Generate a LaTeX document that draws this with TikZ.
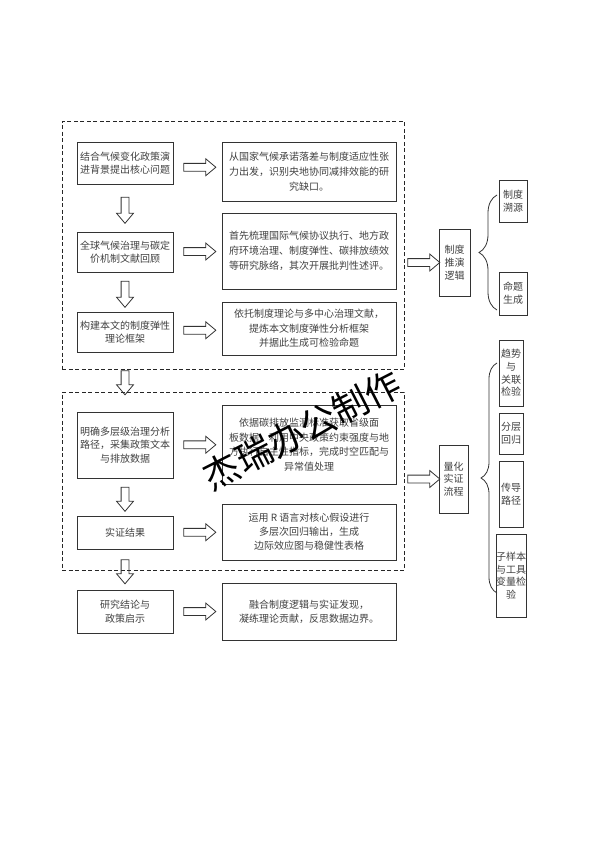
\documentclass[tikz,border=0pt]{standalone}
\usepackage{fontspec}
\usetikzlibrary{shapes.arrows,decorations.pathreplacing,calc}
\newfontfamily\song{Noto Sans CJK SC}
\newfontfamily\wmfont{Noto Sans CJK SC}
\begin{document}
\begin{tikzpicture}[x=1pt,y=-1pt,
  box/.style={draw=black!80, line width=0.9pt, align=center, text=black!75, inner sep=0pt,
    font=\song\fontsize{10}{13.5}\selectfont},
  rbox/.style={box, font=\song\fontsize{10}{15}\selectfont},
  sbox/.style={box, font=\song\fontsize{10}{12.7}\selectfont},
  dashbox/.style={draw=black!85, line width=0.9pt, dash pattern=on 4pt off 2.5pt, inner sep=0pt},
  harrow/.style={single arrow, draw=black!80, line width=0.8pt, inner sep=3.5pt,
    single arrow head extend=4.5pt, single arrow tip angle=80, minimum height=32pt},
  varrow/.style={harrow, rotate=-90, minimum height=#1},
  brc/.style={draw=black!80, line width=0.8pt, decorate, decoration={brace, amplitude=#1}}
  ]
\useasboundingbox (0,0) rectangle (594,841);
% dashed groups
\node[dashbox, minimum width=342pt, minimum height=248pt] (g1) at (233,245) {};
\node[dashbox, minimum width=342pt, minimum height=178pt] (g2) at (233,481) {};
% left column
\node[box, minimum width=96pt, minimum height=42pt] (a) at (125,163) {结合气候变化政策演\\进背景提出核心问题};
\node[box, minimum width=96pt, minimum height=40pt] (b) at (125,252) {全球气候治理与碳定\\价机制文献回顾};
\node[box, minimum width=96pt, minimum height=40pt] (c) at (125,332) {构建本文的制度弹性\\理论框架};
\node[box, minimum width=96pt, minimum height=66pt] (d) at (125,445) {明确多层级治理分析\\路径，采集政策文本\\与排放数据};
\node[box, minimum width=96pt, minimum height=33pt] (e) at (125,532.5) {实证结果};
\node[box, minimum width=96pt, minimum height=43pt] (f) at (125,611.5) {研究结论与\\政策启示};
% right column
\node[rbox, minimum width=174pt, minimum height=59pt] (a2) at (309,171.5) {从国家气候承诺落差与制度适应性张\\力出发，识别央地协同减排效能的研\\究缺口。};
\node[rbox, minimum width=174pt, minimum height=76pt] (b2) at (309,251) {首先梳理国际气候协议执行、地方政\\府环境治理、制度弹性、碳排放绩效\\等研究脉络，其次开展批判性述评。};
\node[box, font=\song\fontsize{10}{14.5}\selectfont, minimum width=174pt, minimum height=53pt] (c2) at (309,328.5) {依托制度理论与多中心治理文献，\\提炼本文制度弹性分析框架\\并据此生成可检验命题};
\node[box, font=\song\fontsize{10}{14.5}\selectfont, minimum width=174pt, minimum height=79pt] (d2) at (309,444.5) {依据碳排放监测标准获取省级面\\板数据，利用中央政策约束强度与地\\方执行自主性指标，完成时空匹配与\\异常值处理};
\node[box, font=\song\fontsize{10}{14}\selectfont, minimum width=174pt, minimum height=56pt] (e2) at (309,532) {运用 R 语言对核心假设进行\\多层次回归输出，生成\\边际效应图与稳健性表格};
\node[box, font=\song\fontsize{10}{14}\selectfont, minimum width=174pt, minimum height=57pt] (f2) at (309,611.5) {融合制度逻辑与实证发现，\\凝练理论贡献，反思数据边界。};
% middle
\node[sbox, minimum width=31pt, minimum height=67pt] (m1) at (454.5,262.5) {制度\\推演\\逻辑};
\node[sbox, minimum width=29pt, minimum height=68pt] (m2) at (453.5,479) {量化\\实证\\流程};
% far right
\node[sbox, minimum width=28pt, minimum height=42pt] (s1) at (513,201) {制度\\溯源};
\node[sbox, minimum width=28pt, minimum height=43pt] (s2) at (513,293.5) {命题\\生成};
\node[sbox, minimum width=24pt, minimum height=66pt] (r1) at (511,373) {趋势\\与\\关联\\检验};
\node[sbox, minimum width=24pt, minimum height=41pt] (r2) at (511,433.5) {分层\\回归};
\node[sbox, minimum width=24pt, minimum height=66pt] (r3) at (511,494) {传导\\路径};
\node[sbox, minimum width=24pt, minimum height=83pt] (r4) at (511,575.5) {子样本\\与工具\\变量检\\验};
% horizontal hollow arrows
\foreach \p/\q in {a/a2,b/b2,c/c2,d/d2,e/e2,f/f2}
  \node[harrow] (h\p) at ($(\p.east)!0.5!(\q.west)$) {};
\node[harrow] (hm1) at ($(g1.east|-m1)!0.5!(m1.west)$) {};
\node[harrow] (hm2) at ($(g2.east|-m2)!0.5!(m2.west)$) {};
% vertical hollow arrows
\node[varrow=26pt] (vab) at ($(a.south)!0.5!(b.north)$) {};
\node[varrow=26pt] (vbc) at ($(b.south)!0.5!(c.north)$) {};
\node[varrow=24pt] (vg) at ($(c.south|-g1.south)!0.5!(d.north|-g2.north)$) {};
\node[varrow=24pt] (vde) at ($(d.south)!0.5!(e.north)$) {};
\node[varrow=24pt] (vef) at ($(e.south)!0.5!(f.north)$) {};
% braces
\coordinate (b1s) at (497,310);
\coordinate (b1e) at (497,195);
\coordinate (b2s) at (497,593);
\coordinate (b2e) at (497,363);
\draw[brc=18pt] (b1s) -- (b1e);
\draw[brc=16pt] (b2s) -- (b2e);
% watermark
\node[rotate=27, font=\wmfont\fontsize{36}{36}\selectfont, text=black, inner sep=0pt] (wm) at (302,430) {杰瑞办公制作};
\end{tikzpicture}
\end{document}
